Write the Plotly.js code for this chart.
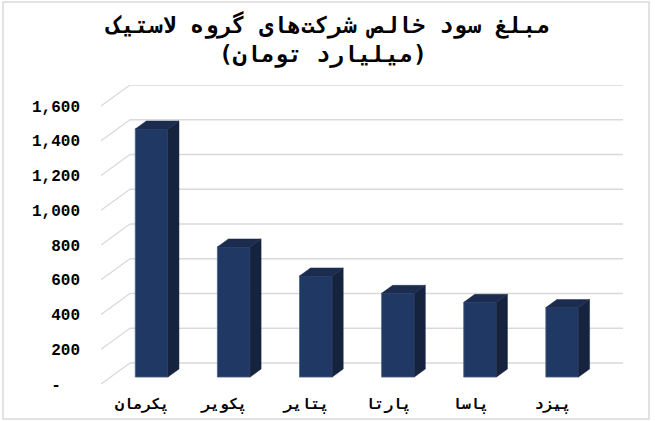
<!DOCTYPE html>
<html>
<head>
<meta charset="utf-8">
<script src="https://cdn.plot.ly/plotly-3.0.1.min.js"></script>
<style>
html,body{margin:0;padding:0;background:#fff;}
#chart{width:655px;height:421px;}
</style>
</head>
<body>
<div id="chart"></div>
<script>
// ---- data ----
const categories = ['پکرمان', 'پکویر', 'پتایر', 'پارتا', 'پاسا', 'پیزد'];
const profits = [1428, 749, 582, 482, 430, 400];
const tickValues = [0, 200, 400, 600, 800, 1000, 1200, 1400, 1600];
const tickLabels = ['-\u00a0\u00a0', '200', '400', '600', '800', '1,000', '1,200', '1,400', '1,600'];
const titleLine1 = 'مبلغ سود خالص شرکت‌های گروه لاستیک';
const titleLine2 = '(میلیارد تومان)';

// ---- 3D look (oblique projection) ----
const W = 655, H = 421;
const M = {l: 101, r: 32, t: 85, b: 37};
const depthX = 0.353;   // depth offset in category units
const depthY = 121;     // depth offset in value units
const xMin = -0.5, xMax = 5.857;
const yMin = 0, yMax = 1721;
const barW = 0.398;
const d1 = 0.33, d2 = 0.71; // front / back depth fraction of bars

const frontCol = '#203864';
const sideCol = '#16233f';
const topCol = '#1b2c4f';
const gridCol = '#d9d9d9';
const arabicFont = 'DejaVu Sans Mono';

const pw = W - M.l - M.r, ph = H - M.t - M.b;
const pxToPaperY = py => (H - M.b - py) / ph;
const pxToPaperX = px => (px - M.l) / pw;

const traces = [];
const shapes = [];

// grid: back wall horizontals and left-wall diagonals (below the bars)
tickValues.forEach(v => {
  shapes.push({type: 'line', xref: 'x', yref: 'y', layer: 'below',
    x0: xMin, y0: v, x1: xMin + depthX, y1: v + depthY,
    line: {color: gridCol, width: 1.3}});
  shapes.push({type: 'line', xref: 'x', yref: 'y', layer: 'below',
    x0: xMin + depthX, y0: v + depthY, x1: xMax, y1: v + depthY,
    line: {color: gridCol, width: 1.3}});
});

// chart border
shapes.push({type: 'rect', xref: 'paper', yref: 'paper', layer: 'below',
  x0: pxToPaperX(3), x1: pxToPaperX(649), y0: pxToPaperY(419), y1: pxToPaperY(2),
  line: {color: '#d9d9d9', width: 1.5}, fillcolor: 'rgba(0,0,0,0)'});

// bar faces
const fdx = d1 * depthX, fdy = d1 * depthY;
const bdx = (d2 - d1) * depthX, bdy = (d2 - d1) * depthY;
const xs = categories.map((c, i) => i + fdx);

// front faces via bar trace
traces.push({type: 'bar', x: xs, y: profits, base: profits.map(() => fdy),
  width: barW, marker: {color: frontCol, line: {color: '#4b5f86', width: 0.8}},
  hoverinfo: 'skip', showlegend: false});

profits.forEach((v, i) => {
  const xl = xs[i] - barW / 2, xr = xs[i] + barW / 2;
  const y0 = fdy, y1 = v + fdy;
  traces.push({type: 'scatter', mode: 'lines', fill: 'toself', fillcolor: sideCol,
    x: [xr, xr, xr + bdx, xr + bdx, xr], y: [y0, y1, y1 + bdy, y0 + bdy, y0],
    line: {color: sideCol, width: 0.5}, hoverinfo: 'skip', showlegend: false});
  traces.push({type: 'scatter', mode: 'lines', fill: 'toself', fillcolor: topCol,
    x: [xl, xr, xr + bdx, xl + bdx, xl], y: [y1, y1, y1 + bdy, y1 + bdy, y1],
    line: {color: topCol, width: 0.5}, hoverinfo: 'skip', showlegend: false});
});

const layout = {
  width: W, height: H,
  margin: M,
  paper_bgcolor: '#ffffff', plot_bgcolor: 'rgba(0,0,0,0)',
  font: {family: arabicFont, color: '#000'},
  annotations: [
    {text: '<b>' + titleLine1 + '</b>', xref: 'paper', yref: 'paper',
      x: pxToPaperX(327.5), y: pxToPaperY(25), xanchor: 'center', yanchor: 'middle',
      showarrow: false, font: {family: arabicFont, size: 23, color: '#000'}},
    {text: '<b>' + titleLine2 + '</b>', xref: 'paper', yref: 'paper',
      x: pxToPaperX(323), y: pxToPaperY(54), xanchor: 'center', yanchor: 'middle',
      showarrow: false, font: {family: arabicFont, size: 23, color: '#000'}}
  ],
  xaxis: {range: [xMin, xMax], showgrid: false, zeroline: false, showline: false,
    tickmode: 'array', tickvals: categories.map((c, i) => i), ticktext: categories,
    ticks: '', ticklabelstandoff: 9,
    tickfont: {family: arabicFont, size: 15, color: '#000', weight: 'bold'}, fixedrange: true},
  yaxis: {range: [yMin, yMax], showgrid: false, zeroline: false, showline: false,
    tickmode: 'array', tickvals: tickValues, ticktext: tickLabels,
    ticks: '', ticklabelstandoff: 20,
    tickfont: {family: 'Liberation Mono', size: 16, color: '#000', weight: 'bold'}, fixedrange: true},
  shapes: shapes,
  bargap: 0, showlegend: false
};

Plotly.newPlot('chart', traces, layout, {displayModeBar: false, staticPlot: true});
</script>
</body>
</html>
